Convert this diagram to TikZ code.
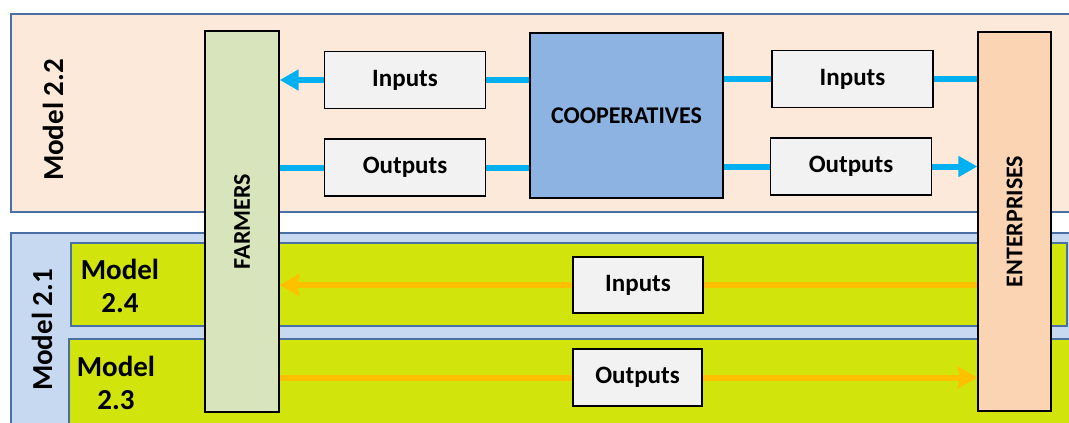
\documentclass[tikz,border=0pt]{standalone}
\usepackage{fontspec}
\setmainfont{Carlito}
\usetikzlibrary{arrows.meta}
\definecolor{panelpeach}{HTML}{FDE9D9}
\definecolor{panelblue}{HTML}{C6D9F1}
\definecolor{panelline}{HTML}{4A6FA5}
\definecolor{lime}{HTML}{D1E40B}
\definecolor{farmgreen}{HTML}{D8E4BC}
\definecolor{entpeach}{HTML}{FBD4B4}
\definecolor{coopblue}{HTML}{8DB3E2}
\definecolor{flowbox}{HTML}{F2F2F2}
\definecolor{cyanflow}{HTML}{00B0F0}
\definecolor{orangeflow}{HTML}{FFC000}
\tikzset{
  panel/.style={draw=panelline, line width=1.2pt},
  actor/.style={draw=black, line width=1.3pt, inner sep=0pt},
  actortext/.style={inner sep=0pt, font=\bfseries\fontsize{24}{26}\selectfont},
  flowlabel/.style={draw=black, line width=1.3pt, fill=flowbox, inner sep=0pt,
    minimum width=161pt, minimum height=57pt, font=\bfseries\fontsize{25}{27}\selectfont},
  modeltext/.style={font=\bfseries\fontsize{29}{33}\selectfont, align=center},
  cyanline/.style={draw=cyanflow, line width=6pt},
  cyanarrow/.style={cyanline, -{Triangle[length=19pt,width=20pt]}},
  orangeline/.style={draw=orangeflow, line width=6pt},
  orangearrow/.style={orangeline, -{Stealth[length=20pt,width=22pt,inset=3pt]}},
}
\begin{document}
\begin{tikzpicture}[x=1pt,y=-1pt]
\useasboundingbox (0,0) rectangle (1069,423);
% background panels
\fill[white] (0,0) rectangle (1069,423);
\draw[panel, fill=panelpeach] (11,14) rectangle (1075,212);
\draw[panel, fill=panelblue] (11,233) rectangle (1075,440);
\draw[panel, fill=lime] (71,243) rectangle (1067,326);
\draw[panel, fill=lime] (69,339) rectangle (1075,440);
% model labels
\node[modeltext, rotate=90] (m22) at (53,120) {Model 2.2};
\node[modeltext, rotate=90] (m21) at (42,330) {Model 2.1};
\node[modeltext] (m24) at (120,286) {Model\\2.4};
\node[modeltext] (m23) at (116,383) {Model\\2.3};
% actors
\node[actor, fill=farmgreen, minimum width=74pt, minimum height=381pt] (farm) at (242,221.5) {};
\node[actortext, rotate=90] (farmtext) at (farm.center) {FARMERS};
\node[actor, fill=entpeach, minimum width=73pt, minimum height=379pt] (ent) at (1014.5,221.5) {};
\node[actortext, rotate=90] (enttext) at (ent.center) {ENTERPRISES};
\node[actor, fill=coopblue, minimum width=193pt, minimum height=165pt,
      font=\bfseries\fontsize{24}{26}\selectfont] (coop) at (626.5,115.5) {COOPERATIVES};
% flow labels
\node[flowlabel] (inL) at (405,80) {Inputs};
\node[flowlabel] (outL) at (405,167.5) {Outputs};
\node[flowlabel] (inR) at (852.5,79) {Inputs};
\node[flowlabel] (outR) at (851,166.5) {Outputs};
\node[flowlabel, minimum width=130pt, minimum height=56pt] (inB) at (638,285) {Inputs};
\node[flowlabel, minimum width=129pt, minimum height=57pt] (outB) at (637.5,377.5) {Outputs};
% cooperative channel (model 2.2)
\draw[cyanline] (coop.west |- inL.east) -- (inL.east);
\draw[cyanarrow] (inL.west) -- (farm.east |- inL.west);
\draw[cyanline] (ent.west |- inR.east) -- (inR.east);
\draw[cyanline] (inR.west) -- (coop.east |- inR.west);
\draw[cyanline] (farm.east |- outL.west) -- (outL.west);
\draw[cyanline] (outL.east) -- (coop.west |- outL.east);
\draw[cyanline] (coop.east |- outR.west) -- (outR.west);
\draw[cyanarrow] (outR.east) -- (ent.west |- outR.east);
% direct channel (models 2.3 and 2.4)
\draw[orangeline] (ent.west |- inB.east) -- (inB.east);
\draw[orangearrow] (inB.west) -- (farm.east |- inB.west);
\draw[orangeline] (farm.east |- outB.west) -- (outB.west);
\draw[orangearrow] (outB.east) -- (ent.west |- outB.east);
\end{tikzpicture}
\end{document}
